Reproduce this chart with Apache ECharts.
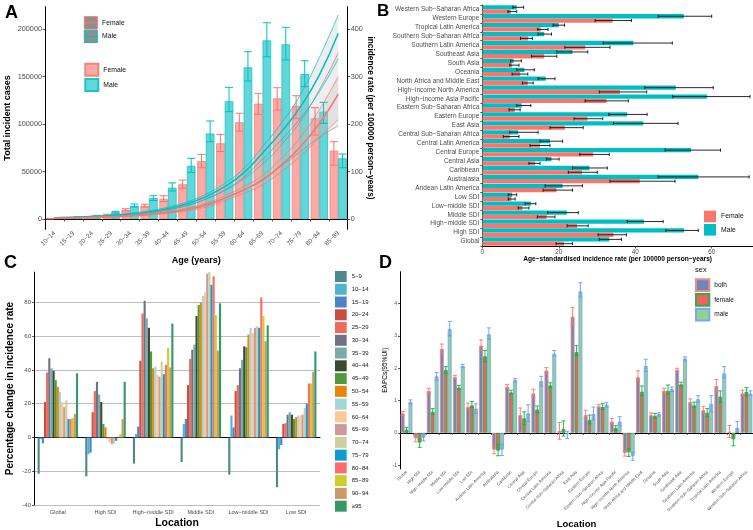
<!DOCTYPE html>
<html>
<head>
<meta charset="utf-8">
<title>Incidence by age, location and sex</title>
<script src="https://cdn.jsdelivr.net/npm/echarts@6/dist/echarts.min.js"></script>
<style>
    html, body { margin: 0; padding: 0; background: #ffffff; }
    #chart { width: 753px; height: 530px; }
</style>
</head>
<body>
<div id="chart"></div>
<script>
    var FONT = '"Liberation Sans", Arial, sans-serif';
    var TICK_TXT = '#4d4d4d';

    // ---------- panel A : incident cases (bars) and incidence rate (curves) by age
    var ages = ['10−14', '15−19', '20−24', '25−29', '30−34', '35−39', '40−44', '45−49',
        '50−54', '55−59', '60−64', '65−69', '70−74', '75−79', '80−84', '85−89'];
    var femaleCases = [500, 1200, 1800, 4300, 9500, 14000, 21000, 36500, 61000, 79700, 101800, 121400, 127000, 119000, 106000, 71900];
    var femaleCasesLow = [400, 1000, 1500, 3700, 8400, 12500, 18500, 32500, 54000, 71000, 92600, 110200, 114700, 106000, 88400, 56800];
    var femaleCasesHigh = [600, 1400, 2200, 5000, 10800, 15600, 24500, 41000, 68000, 89000, 111300, 132300, 138200, 129800, 117200, 81400];
    var maleCases = [800, 1800, 3000, 7000, 14000, 22000, 33000, 56000, 90000, 124000, 159700, 188000, 183900, 152600, 113000, 63900];
    var maleCasesLow = [600, 1500, 2600, 6200, 12500, 19500, 29500, 49000, 81400, 113000, 145300, 170800, 167400, 139300, 100700, 54000];
    var maleCasesHigh = [1000, 2200, 3500, 8000, 15800, 24500, 38000, 63900, 103200, 138600, 176100, 206600, 201800, 166600, 122800, 68400];

    var maleRate = [2.4, 3.5, 5, 7.3, 10.5, 15, 22, 32, 47, 68, 97, 139, 184, 236, 303, 391];
    var maleRateLow = [1.9, 2.8, 4.1, 6, 8.8, 12.8, 19, 28, 42, 61, 88, 126, 167, 212, 268, 337];
    var maleRateHigh = [3, 4.3, 6, 8.6, 12.2, 17.3, 25, 36, 52, 75, 106, 152, 202, 262, 340, 430];
    var femaleRate = [1.5, 2.2, 3.2, 4.6, 6.6, 9.5, 14, 20, 29, 44, 61, 82, 114, 152, 201, 263];
    var femaleRateLow = [1.2, 1.8, 2.6, 3.8, 5.5, 8, 12, 17, 25, 39, 54, 72, 100, 132, 172, 209];
    var femaleRateHigh = [1.9, 2.7, 3.9, 5.5, 7.8, 11, 16, 23, 33, 49, 68, 92, 128, 172, 230, 300];
    var pooledRateLow = [1.6, 2.3, 3.3, 4.8, 7, 10, 14.5, 21, 31, 44, 61, 84, 112, 142, 172, 196];
    var pooledRateHigh = [2.5, 3.5, 5, 7, 10, 14, 20, 29, 42, 60, 84, 116, 156, 206, 272, 350];

    var caseTicks = [0, 50000, 100000, 150000, 200000];
    var rateTicks = [0, 100, 200, 300, 400];

    // ---------- panel B : age-standardised incidence rate by location (bottom to top)
    var regions = ['Global', 'High SDI', 'High−middle SDI', 'Middle SDI', 'Low−middle SDI', 'Low SDI',
        'Andean Latin America', 'Australasia', 'Caribbean', 'Central Asia', 'Central Europe',
        'Central Latin America', 'Central Sub−Saharan Africa', 'East Asia', 'Eastern Europe',
        'Eastern Sub−Saharan Africa', 'High−income Asia Pacific', 'High−income North America',
        'North Africa and Middle East', 'Oceania', 'South Asia', 'Southeast Asia',
        'Southern Latin America', 'Southern Sub−Saharan Africa', 'Tropical Latin America',
        'Western Europe', 'Western Sub−Saharan Africa'];
    var asirMale = [33.2, 52.8, 42.3, 22.1, 12.7, 7.8, 21.0, 56.5, 28.0, 18.1, 54.6, 17.7, 9.4, 42.1, 37.9, 10.3, 58.8, 50.6, 16.6, 11.0, 8.2, 23.6, 39.5, 16.2, 20.0, 52.7, 9.0];
    var asirMaleLow = [30.6, 48.0, 37.9, 17.1, 11.2, 6.8, 16.4, 46.0, 23.6, 16.8, 47.8, 15.1, 7.2, 34.3, 33.1, 9.0, 49.8, 42.5, 14.6, 9.0, 7.4, 19.5, 31.6, 14.6, 18.5, 46.0, 8.0];
    var asirMaleHigh = [36.4, 56.5, 47.3, 25.1, 14.0, 9.0, 26.2, 69.8, 32.7, 20.1, 62.3, 21.0, 14.6, 51.2, 43.1, 12.7, 70.0, 60.4, 19.0, 13.6, 10.2, 27.6, 49.7, 18.1, 21.5, 60.0, 10.8];
    var asirFemale = [21.4, 34.3, 24.8, 16.8, 10.5, 7.6, 19.4, 41.2, 26.1, 13.8, 29.0, 15.1, 7.2, 21.6, 27.5, 8.5, 32.5, 36.0, 11.9, 9.9, 7.8, 16.2, 26.9, 12.0, 15.3, 34.1, 7.5];
    var asirFemaleLow = [19.3, 30.3, 22.2, 14.4, 9.4, 6.8, 15.9, 33.4, 22.5, 12.2, 25.5, 12.5, 5.5, 17.7, 24.0, 7.0, 26.9, 30.6, 10.5, 7.8, 7.2, 12.9, 21.6, 10.0, 14.5, 29.5, 6.7];
    var asirFemaleHigh = [23.6, 37.7, 27.7, 19.0, 12.2, 8.6, 23.6, 50.4, 30.1, 15.1, 33.2, 17.7, 9.6, 26.4, 31.5, 9.9, 38.2, 43.0, 13.3, 11.9, 9.6, 19.5, 33.4, 13.1, 17.2, 39.0, 9.0];
    var asirTicks = [0, 20, 40, 60];

    // ---------- panel C : percentage change in incidence rate, one array per location (age groups in order)
    var locations = ['Global', 'High SDI', 'High−middle SDI', 'Middle SDI', 'Low−middle SDI', 'Low SDI'];
    var ageGroups = ['5−9', '10−14', '15−19', '20−24', '25−29', '30−34', '35−39', '40−44', '45−49', '50−54',
        '55−59', '60−64', '65−69', '70−74', '75−79', '80−84', '85−89', '90−94', '≥95'];
    var ageColors = ['#4e8888', '#4fb4d1', '#4a82cb', '#c84e3f', '#ee6b5c', '#6e7486', '#7aabab', '#3a4a30',
        '#4f9a3a', '#ea8309', '#a3d7d7', '#fcc995', '#cc9a9a', '#cfcf9c', '#0d9cd0', '#ff6b6b', '#cdcd30', '#cc9966', '#339966'];
    var pctGlobal = [-21.5, -1, -3.5, 21, 38.5, 47, 41, 39.5, 34, 30, 27, 21, 18, 22, 11, 11, 11.5, 14, 38];
    var pctHigh = [-23, -10, -9, 15, 27.5, 33, 25.5, 21, 8, 6, -1, -3, -4, -3.5, -2, 0.5, 2, 11, 33];
    var pctHighMiddle = [-15.5, 2, 6.5, 45.5, 73.5, 81, 70.5, 65, 51, 41, 42, 37, 36, 45, 37.5, 43, 53, 41.5, 67.5];
    var pctMiddle = [-14.5, 8, 11, 31, 46.5, 52, 55, 72, 78.5, 80, 84, 86, 97, 98, 90.5, 95.5, 72.5, 51.5, 79.5];
    var pctLowMiddle = [-22, 13, 6, 27.5, 31, 41, 46, 54, 53.5, 61, 65, 62, 65, 66, 65, 83, 72, 57, 66.5];
    var pctLow = [-29.5, -7, -4.5, 8, 8.5, 13.5, 15, 13.5, 11, 12, 13, 13, 13.5, 17.5, 20, 32, 32, 39, 51];
    var pctTicks = [-40, -20, 0, 20, 40, 60, 80];

    // ---------- panel D : EAPC (95% UI) by location and sex
    var eapcBoth = [0.6, -0.17, 1.3, 2.6, 1.73, 0.8, 2.7, -0.52, 1.43, 0.55, 1.22, 1.93, 0.06, 3.6, 0.55, 0.82, 0.35, -0.63, 1.72, 0.55, 1.3, 1.95, 0.95, 0.7, 1.45, 0.03, 1.22];
    var eapcBothLow = [0.54, -0.28, 1.22, 2.45, 1.68, 0.7, 2.55, -0.65, 1.38, 0.35, 1.12, 1.85, -0.2, 3.35, 0.45, 0.78, 0.27, -0.72, 1.6, 0.5, 1.2, 1.9, 0.88, 0.6, 1.3, -0.15, 1.15];
    var eapcBothHigh = [0.66, -0.08, 1.38, 2.75, 1.78, 0.92, 2.88, -0.4, 1.5, 0.77, 1.35, 2.02, 0.32, 3.88, 0.7, 0.88, 0.45, -0.55, 1.92, 0.62, 1.38, 2.0, 1.05, 0.82, 1.65, 0.23, 1.32];
    var eapcFemale = [0.1, -0.3, 0.65, 1.95, 1.4, 0.85, 2.37, -0.55, 1.25, 0.45, 0.72, 1.47, 0.12, 2.5, 0.4, 0.8, 0.15, -0.6, 1.27, 0.52, 1.3, 1.5, 0.85, 0.62, 1.12, -0.2, 1.27];
    var eapcFemaleLow = [0.03, -0.45, 0.57, 1.85, 1.35, 0.78, 2.2, -0.71, 1.2, 0.25, 0.63, 1.4, -0.1, 2.4, 0.28, 0.72, 0.07, -0.73, 1.15, 0.45, 1.2, 1.45, 0.78, 0.5, 0.95, -0.4, 1.15];
    var eapcFemaleHigh = [0.17, -0.2, 0.75, 2.05, 1.47, 0.97, 2.55, -0.36, 1.32, 0.65, 0.83, 1.55, 0.37, 2.7, 0.55, 0.9, 0.22, -0.5, 1.45, 0.6, 1.48, 1.57, 0.95, 0.75, 1.3, -0.05, 1.4];
    var eapcMale = [0.95, -0.15, 1.75, 3.22, 2.07, 0.75, 3.05, -0.52, 1.63, 0.6, 1.6, 2.45, -0.05, 4.38, 0.58, 0.87, 0.35, -0.72, 2.07, 0.58, 1.35, 2.3, 1.04, 0.9, 1.84, 0.15, 1.22];
    var eapcMaleLow = [0.9, -0.25, 1.62, 3.0, 2.02, 0.6, 2.9, -0.7, 1.58, 0.35, 1.45, 2.38, -0.18, 4.2, 0.4, 0.8, 0.22, -0.85, 1.9, 0.52, 1.28, 2.25, 0.95, 0.65, 1.7, 0.02, 1.15];
    var eapcMaleHigh = [1.02, -0.05, 1.87, 3.45, 2.12, 0.9, 3.25, -0.35, 1.68, 0.87, 1.75, 2.55, 0.05, 4.65, 0.8, 0.93, 0.5, -0.6, 2.28, 0.62, 1.42, 2.35, 1.15, 1.15, 2.05, 0.35, 1.3];
    var eapcTicks = [-1, 0, 1, 2, 3, 4];

    var RED = '#F8766D', CYAN = '#00BFC4';

    // error bar drawn through the axes of the series (vertical bars)
    function vErr(color, offsetOf, capHalf, lw) {
        return function (params, api) {
            var i = api.value(0);
            var lo = api.coord([i, api.value(1)]);
            var hi = api.coord([i, api.value(2)]);
            var x = lo[0] + offsetOf(api.size([1, 0])[0]);
            var st = { stroke: color, lineWidth: lw };
            return { type: 'group', children: [
                { type: 'line', shape: { x1: x, y1: lo[1], x2: x, y2: hi[1] }, style: st },
                { type: 'line', shape: { x1: x - capHalf, y1: lo[1], x2: x + capHalf, y2: lo[1] }, style: st },
                { type: 'line', shape: { x1: x - capHalf, y1: hi[1], x2: x + capHalf, y2: hi[1] }, style: st }
            ] };
        };
    }
    // horizontal bars
    function hErr(color, offsetOf, capHalf, lw) {
        return function (params, api) {
            var i = api.value(0);
            var lo = api.coord([api.value(1), i]);
            var hi = api.coord([api.value(2), i]);
            var y = lo[1] + offsetOf(api.size([0, 1])[1]);
            var st = { stroke: color, lineWidth: lw };
            return { type: 'group', children: [
                { type: 'line', shape: { x1: lo[0], y1: y, x2: hi[0], y2: y }, style: st },
                { type: 'line', shape: { x1: lo[0], y1: y - capHalf, x2: lo[0], y2: y + capHalf }, style: st },
                { type: 'line', shape: { x1: hi[0], y1: y - capHalf, x2: hi[0], y2: y + capHalf }, style: st }
            ] };
        };
    }
    function triples(lo, hi) {
        return lo.map(function (v, i) { return [i, v, hi[i]]; });
    }
    function errSeries(xi, yi, lo, hi, render, horizontal) {
        return {
            type: 'custom', xAxisIndex: xi, yAxisIndex: yi, z: 4, silent: true,
            renderItem: render,
            encode: horizontal ? { y: 0, x: [1, 2] } : { x: 0, y: [1, 2] },
            data: triples(lo, hi)
        };
    }
    // grey confidence ribbon on the rate axis of panel A
    function ribbon(key, low, high) {
        var common = { type: 'line', xAxisIndex: 0, yAxisIndex: 1, stack: key, smooth: true,
            symbol: 'none', silent: true, z: 3, lineStyle: { width: 0, opacity: 0 } };
        return [
            Object.assign({}, common, { data: low }),
            Object.assign({}, common, {
                data: high.map(function (v, i) { return v - low[i]; }),
                areaStyle: { color: '#bdbdbd', opacity: 0.26 }
            })
        ];
    }
    function rateLine(data, color, width) {
        return { type: 'line', xAxisIndex: 0, yAxisIndex: 1, data: data, smooth: true, symbol: 'none',
            silent: true, z: 5, lineStyle: { color: color, width: width } };
    }

    var barW_A = 8.6, barW_B = 4.3;

    var series = [
        // A bars
        { name: 'Female_A', type: 'bar', xAxisIndex: 0, yAxisIndex: 0, data: femaleCases, barWidth: barW_A, barGap: '0%', z: 2,
            itemStyle: { color: 'rgba(248,118,109,0.62)', borderColor: '#f2847c', borderWidth: 0.8 } },
        { name: 'Male_A', type: 'bar', xAxisIndex: 0, yAxisIndex: 0, data: maleCases, barWidth: barW_A, barGap: '0%', z: 2,
            itemStyle: { color: 'rgba(0,191,196,0.62)', borderColor: '#1fc3c7', borderWidth: 0.8 } },
        errSeries(0, 0, femaleCasesLow, femaleCasesHigh, vErr(RED, function () { return -barW_A / 2; }, 4, 1)),
        errSeries(0, 0, maleCasesLow, maleCasesHigh, vErr(CYAN, function () { return barW_A / 2; }, 4, 1))
    ];
    series = series.concat(ribbon('pooled', pooledRateLow, pooledRateHigh));
    series = series.concat(ribbon('male', maleRateLow, maleRateHigh));
    series = series.concat(ribbon('female', femaleRateLow, femaleRateHigh));
    series.push(
        rateLine(pooledRateLow, '#8f8f8f', 0.7), rateLine(pooledRateHigh, '#8f8f8f', 0.7),
        rateLine(maleRateLow, CYAN, 0.7), rateLine(maleRateHigh, CYAN, 0.7), rateLine(maleRate, CYAN, 1.5),
        rateLine(femaleRateLow, RED, 0.7), rateLine(femaleRateHigh, RED, 0.7), rateLine(femaleRate, RED, 1.5)
    );

    // B bars (first series sits on top inside each band)
    series.push(
        { name: 'Male_B', type: 'bar', xAxisIndex: 1, yAxisIndex: 2, data: asirMale, barWidth: barW_B, barGap: '0%',
            itemStyle: { color: CYAN } },
        { name: 'Female_B', type: 'bar', xAxisIndex: 1, yAxisIndex: 2, data: asirFemale, barWidth: barW_B, barGap: '0%',
            itemStyle: { color: RED } },
        errSeries(1, 2, asirMaleLow, asirMaleHigh, hErr('#111', function () { return -barW_B / 2; }, 1.6, 0.9), true),
        errSeries(1, 2, asirFemaleLow, asirFemaleHigh, hErr('#111', function () { return barW_B / 2; }, 1.6, 0.9), true)
    );

    // C bars
    var pctByLocation = [pctGlobal, pctHigh, pctHighMiddle, pctMiddle, pctLowMiddle, pctLow];
    ageGroups.forEach(function (g, k) {
        series.push({
            name: g, type: 'bar', xAxisIndex: 2, yAxisIndex: 3, barGap: '0%', barCategoryGap: '15%',
            data: pctByLocation.map(function (arr) { return arr[k]; }),
            itemStyle: { color: ageColors[k] }
        });
    });

    // D bars
    var dBar = function (name, data, fill, border) {
        return { name: name, type: 'bar', xAxisIndex: 3, yAxisIndex: 4, data: data, barGap: '0%', barCategoryGap: '10%',
            itemStyle: { color: fill, borderColor: border, borderWidth: 0.9 } };
    };
    var dOff = function (k) { return function (band) { return k * band * 0.9 / 3; }; };
    series.push(
        dBar('both', eapcBoth, '#6a88c0', '#f08a84'),
        dBar('female', eapcFemale, '#f0625c', '#2bb04a'),
        dBar('male', eapcMale, '#92d28f', '#7aa8f5'),
        errSeries(3, 4, eapcBothLow, eapcBothHigh, vErr('#f8766d', dOff(-1), 2, 0.9)),
        errSeries(3, 4, eapcFemaleLow, eapcFemaleHigh, vErr('#00ba38', dOff(0), 2, 0.9)),
        errSeries(3, 4, eapcMaleLow, eapcMaleHigh, vErr('#619cff', dOff(1), 2, 0.9))
    );

    var axisLine = { show: true, lineStyle: { color: '#000', width: 1 } };
    var tick = function (vals, len) {
        var t = { show: true, length: len || 2.5, lineStyle: { color: '#333', width: 0.8 } };
        if (vals) t.customValues = vals;
        return t;
    };
    var lbl = function (size, extra) {
        return Object.assign({ fontFamily: FONT, fontSize: size, color: TICK_TXT }, extra || {});
    };
    var title = function (size, bold) {
        return { fontFamily: FONT, fontSize: size, fontWeight: bold ? 'bold' : 'normal', color: '#000' };
    };
    var plain = function (v) { return String(v); };

    var option = {
        animation: false,
        backgroundColor: '#ffffff',
        textStyle: { fontFamily: FONT },
        grid: [
            { left: 45, top: 6.7, width: 302.7, height: 222.6 },
            { left: 482.3, top: 5, width: 270.7, height: 241 },
            { left: 34, top: 272.1, width: 286, height: 234.6 },
            { left: 400, top: 271.7, width: 353, height: 200 }
        ],
        xAxis: [
            { type: 'category', gridIndex: 0, data: ages, axisLine: axisLine, axisTick: tick(null, 2.5),
                axisLabel: lbl(6.3, { rotate: 45, margin: 3, interval: 0 }),
                name: 'Age (years)', nameLocation: 'middle', nameGap: 27, nameTextStyle: title(9, true) },
            { type: 'value', gridIndex: 1, min: 0, max: 70.8, axisLine: axisLine, splitLine: { show: false },
                axisTick: tick(asirTicks, 2.5), axisLabel: lbl(6.3, { customValues: asirTicks, margin: 3 }),
                name: 'Age−standardised incidence rate (per 100000 person−years)', nameLocation: 'middle',
                nameGap: 10, nameTextStyle: title(6.6, true) },
            { type: 'category', gridIndex: 2, data: locations, axisLine: axisLine, axisTick: { show: false },
                axisLabel: lbl(5.5, { margin: 4, interval: 0 }),
                name: 'Location', nameLocation: 'middle', nameGap: 13, nameTextStyle: title(10.5, true) },
            { type: 'category', gridIndex: 3, data: regions, axisLine: axisLine, axisTick: tick(null, 2),
                axisLabel: lbl(4.2, { rotate: 45, margin: 2.5, interval: 0 }),
                name: 'Location', nameLocation: 'middle', nameGap: 50, nameTextStyle: title(9.5, true) }
        ],
        yAxis: [
            { type: 'value', gridIndex: 0, min: -10840, max: 223500, axisLine: axisLine, splitLine: { show: false },
                axisTick: tick(caseTicks, 2.5), axisLabel: lbl(7.3, { customValues: caseTicks, margin: 3, formatter: plain }),
                name: 'Total incident cases', nameLocation: 'middle', nameGap: 33, nameTextStyle: title(9, true) },
            { type: 'value', gridIndex: 0, position: 'right', min: -21.7, max: 447, axisLine: axisLine, splitLine: { show: false },
                axisTick: tick(rateTicks, 2.5), axisLabel: lbl(7.3, { customValues: rateTicks, margin: 3, formatter: plain }),
                name: 'incidence rate (per 100000 person−years)', nameLocation: 'middle', nameRotate: -90,
                nameGap: 17, nameTextStyle: title(8.3, true) },
            { type: 'category', gridIndex: 1, data: regions, axisLine: axisLine, axisTick: tick(null, 2),
                axisLabel: lbl(6.5, { margin: 3, interval: 0 }) },
            { type: 'value', gridIndex: 2, min: -40, max: 98, axisLine: axisLine,
                splitLine: { show: true, lineStyle: { color: '#bebebe', width: 1 } },
                axisTick: tick(pctTicks, 2), axisLabel: lbl(6, { customValues: pctTicks, margin: 3 }),
                name: 'Percentage change in incidence rate', nameLocation: 'middle', nameGap: 19,
                nameTextStyle: title(10, true) },
            { type: 'value', gridIndex: 3, min: -1.12, max: 4.99, axisLine: axisLine, splitLine: { show: false },
                axisTick: tick(eapcTicks, 2), axisLabel: lbl(5, { customValues: eapcTicks, margin: 3 }),
                name: 'EAPCs(95%UI)', nameLocation: 'middle', nameGap: 11, nameTextStyle: title(6.5, false) }
        ],
        legend: [
            { data: ['Female_A', 'Male_A'], left: 84.3, top: 62.7, padding: 0, orient: 'vertical', itemWidth: 13, itemHeight: 12,
                itemGap: 1.3, icon: 'rect', formatter: function (n) { return n.split('_')[0]; },
                textStyle: { fontFamily: FONT, fontSize: 6.8, color: '#111' }, selectedMode: false },
            { data: ['Female_B', 'Male_B'], left: 704, top: 210.7, padding: 0, orient: 'vertical', itemWidth: 12, itemHeight: 11.6,
                itemGap: 1.7, icon: 'rect', formatter: function (n) { return n.split('_')[0]; },
                textStyle: { fontFamily: FONT, fontSize: 6.8, color: '#111' }, selectedMode: false },
            { data: ageGroups, left: 335, top: 271, padding: 0, orient: 'vertical', itemWidth: 11.7, itemHeight: 11,
                itemGap: 1.76, icon: 'rect', textStyle: { fontFamily: FONT, fontSize: 6, color: '#222' }, selectedMode: false },
            { data: ['both', 'female', 'male'], left: 695, top: 278.3, padding: 0, orient: 'vertical', itemWidth: 13.3, itemHeight: 11.7,
                itemGap: 1, icon: 'rect', textStyle: { fontFamily: FONT, fontSize: 6.5, color: '#111' }, selectedMode: false }
        ],
        graphic: [
            { type: 'text', left: 5, top: 4, style: { text: 'A', font: 'bold 18px ' + FONT, fill: '#000' } },
            { type: 'text', left: 377, top: 3, style: { text: 'B', font: 'bold 17px ' + FONT, fill: '#000' } },
            { type: 'text', left: 4, top: 254, style: { text: 'C', font: 'bold 18px ' + FONT, fill: '#000' } },
            { type: 'text', left: 379, top: 254, style: { text: 'D', font: 'bold 18px ' + FONT, fill: '#000' } },
            // smooth-fit legend of panel A
            { type: 'rect', shape: { x: 84.3, y: 16.7, width: 13, height: 12.3 }, style: { fill: '#8e8e8e', stroke: RED, lineWidth: 1 } },
            { type: 'line', shape: { x1: 84.3, y1: 22.85, x2: 97.3, y2: 22.85 }, style: { stroke: RED, lineWidth: 1.2 } },
            { type: 'rect', shape: { x: 84.3, y: 30.2, width: 13, height: 12.3 }, style: { fill: '#8e8e8e', stroke: CYAN, lineWidth: 1 } },
            { type: 'line', shape: { x1: 84.3, y1: 36.35, x2: 97.3, y2: 36.35 }, style: { stroke: CYAN, lineWidth: 1.2 } },
            { type: 'text', x: 102, y: 22.85, style: { text: 'Female', font: '6.8px ' + FONT, fill: '#111', textVerticalAlign: 'middle' } },
            { type: 'text', x: 102, y: 36.35, style: { text: 'Male', font: '6.8px ' + FONT, fill: '#111', textVerticalAlign: 'middle' } },
            // sex legend of panel D: title and middle strokes of the keys
            { type: 'text', x: 695, y: 266, style: { text: 'sex', font: '7.5px ' + FONT, fill: '#111' } },
            { type: 'line', shape: { x1: 695, y1: 284.15, x2: 708.3, y2: 284.15 }, style: { stroke: '#f08a84', lineWidth: 0.9 } },
            { type: 'line', shape: { x1: 695, y1: 296.85, x2: 708.3, y2: 296.85 }, style: { stroke: '#2bb04a', lineWidth: 0.9 } },
            { type: 'line', shape: { x1: 695, y1: 309.55, x2: 708.3, y2: 309.55 }, style: { stroke: '#7aa8f5', lineWidth: 0.9 } }
        ],
        series: series
    };

    var chart = echarts.init(document.getElementById('chart'), null, { renderer: 'canvas' });
    chart.setOption(option);
</script>
</body>
</html>
